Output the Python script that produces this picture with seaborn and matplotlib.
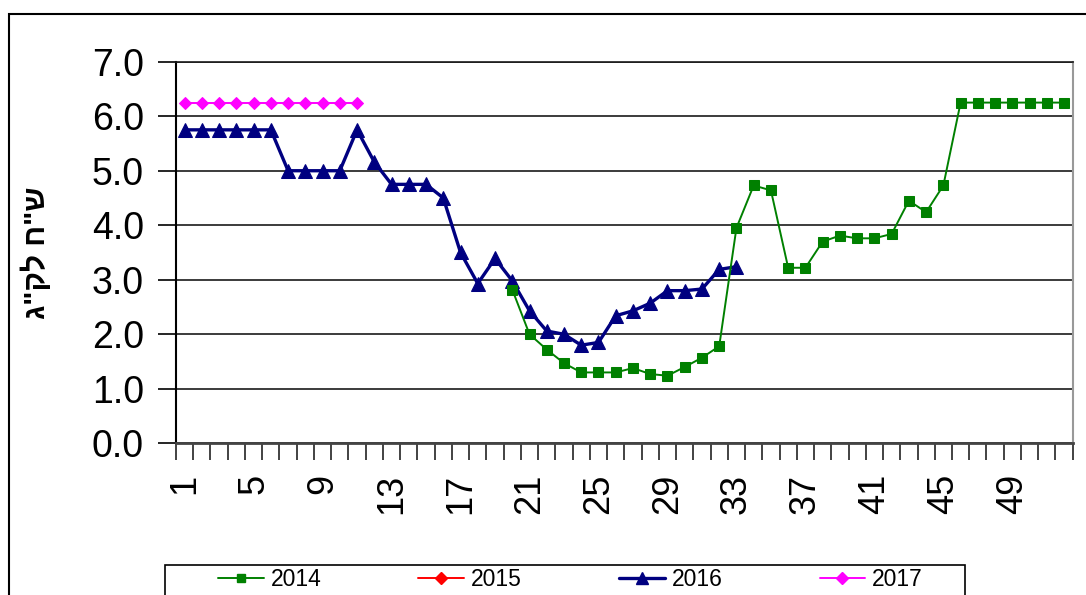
import matplotlib
matplotlib.use("Agg")
import matplotlib.pyplot as plt
import seaborn as sns
import pandas as pd
from matplotlib.lines import Line2D
from matplotlib.patches import Rectangle

# ---------------- data ----------------
weeks_2014 = [20, 21, 22, 23, 24, 25, 26, 27, 28, 29, 30, 31, 32, 33, 34, 35, 36,
              37, 38, 39, 40, 41, 42, 43, 44, 45, 46, 47, 48, 49, 50, 51, 52]
vals_2014 = [2.82, 2.00, 1.72, 1.47, 1.30, 1.30, 1.30, 1.38, 1.27, 1.24, 1.40, 1.57,
             1.78, 3.95, 4.73, 4.64, 3.22, 3.22, 3.70, 3.81, 3.76, 3.76, 3.84, 4.45,
             4.24, 4.73, 6.25, 6.25, 6.25, 6.25, 6.25, 6.25, 6.25]

weeks_2016 = [1, 2, 3, 4, 5, 6, 7, 8, 9, 10, 11, 12, 13, 14, 15, 16, 17, 18, 19, 20,
              21, 22, 23, 24, 25, 26, 27, 28, 29, 30, 31, 32, 33]
vals_2016 = [5.75, 5.75, 5.75, 5.75, 5.75, 5.75, 5.00, 5.00, 5.00, 5.00, 5.75, 5.16,
             4.75, 4.75, 4.75, 4.50, 3.50, 2.93, 3.39, 2.98, 2.43, 2.06, 2.00, 1.80,
             1.85, 2.34, 2.43, 2.57, 2.80, 2.80, 2.83, 3.19, 3.24]

weeks_2017 = [1, 2, 3, 4, 5, 6, 7, 8, 9, 10, 11]
vals_2017 = [6.25, 6.25, 6.25, 6.25, 6.25, 6.25, 6.25, 6.25, 6.25, 6.25, 6.25]

series_names = ["2014", "2015", "2016", "2017"]
x_tick_labels = ["1", "5", "9", "13", "17", "21", "25", "29", "33", "37", "41", "45", "49"]
y_ticks = [0.0, 1.0, 2.0, 3.0, 4.0, 5.0, 6.0, 7.0]
y_label = 'ג"קל ח"ש'  # visual (right-to-left) order of ש"ח לק"ג

# ---------------- style ----------------
sns.set_style("white")
plt.rcParams["font.family"] = ["Liberation Sans", "DejaVu Sans"]
plt.rcParams["text.color"] = "black"
plt.rcParams["xtick.color"] = "black"
plt.rcParams["ytick.color"] = "black"

W, H = 1086, 595
fig = plt.figure(figsize=(W / 100, H / 100), dpi=100)
ax = fig.add_axes([176 / W, 1 - 443.3 / H, (1072.7 - 176) / W, (443.3 - 61.7) / H])

c2014, c2015, c2016, c2017 = "#008000", "#FF0000", "#000080", "#FF00FF"

sns.lineplot(x=weeks_2016, y=vals_2016, ax=ax, color=c2016, linewidth=2.4,
             marker="^", markersize=9.5, markeredgecolor=c2016, legend=False)
sns.lineplot(x=weeks_2014, y=vals_2014, ax=ax, color=c2014, linewidth=1.4,
             marker="s", markersize=6.5, markeredgecolor=c2014, legend=False)
sns.lineplot(x=weeks_2017, y=vals_2017, ax=ax, color=c2017, linewidth=1.4,
             marker="D", markersize=6, markeredgecolor=c2017, legend=False)

ax.set_xlim(0.5, 52.5)
ax.set_ylim(0, 7)
ax.set_xlabel("")
ax.set_ylabel("")

# y axis
ax.set_yticks(y_ticks)
ax.set_yticklabels([f"{v:.1f}" for v in y_ticks], fontsize=27, color="black")
ax.tick_params(axis="y", which="major", direction="out", length=13, width=1.2,
               color="black", labelcolor="black", pad=10, left=True)
ax.yaxis.grid(True, color="#1a1a1a", linewidth=1.2)
ax.xaxis.grid(False)
ax.set_axisbelow(True)

# x axis: labels at every 4th week, tick marks between categories
ax.set_xticks([int(t) for t in x_tick_labels])
ax.set_xticklabels(x_tick_labels, rotation=90, fontsize=26, va="top", ha="center",
                   color="black")
ax.tick_params(axis="x", which="major", length=0, pad=22, bottom=True,
               labelcolor="black")
ax.set_xticks([k + 0.5 for k in range(0, 53)], minor=True)
ax.tick_params(axis="x", which="minor", direction="out", length=12, width=1.2,
               color="#222222", bottom=True)

for side in ["top", "right", "left", "bottom"]:
    ax.spines[side].set_visible(True)
ax.spines["left"].set_color("black")
ax.spines["left"].set_linewidth(1.5)
ax.spines["bottom"].set_color("#444444")
ax.spines["bottom"].set_linewidth(2)
ax.spines["top"].set_color("#1a1a1a")
ax.spines["top"].set_linewidth(1.2)
ax.spines["right"].set_color("#999999")
ax.spines["right"].set_linewidth(1.5)

# y label
fig.text(36 / W, 1 - 253 / H, y_label, rotation=90, ha="center", va="center",
         fontsize=21.5, fontweight="bold", color="black")

# outer chart border
fig.patches.append(Rectangle((8.5 / W, -0.2), 2.0, 1.2 - 14 / H,
                             transform=fig.transFigure, fill=False,
                             edgecolor="black", linewidth=1.5, figure=fig))
# legend frame
fig.patches.append(Rectangle((165 / W, -0.2), 800 / W, 0.2 + 30 / H,
                             transform=fig.transFigure, fill=False,
                             edgecolor="black", linewidth=1.2, figure=fig))

handles = [
    Line2D([], [], color=c2014, lw=1.4, marker="s", markersize=6, markeredgecolor=c2014),
    Line2D([], [], color=c2015, lw=1.4, marker="D", markersize=6, markeredgecolor=c2015),
    Line2D([], [], color=c2016, lw=2.4, marker="^", markersize=8, markeredgecolor=c2016),
    Line2D([], [], color=c2017, lw=1.4, marker="D", markersize=6, markeredgecolor=c2017),
]
leg = fig.legend(handles, series_names, loc="center left", ncol=4, frameon=False,
                 bbox_to_anchor=(218 / W, 1 - 580 / H, 705 / W, 0.0), mode="expand",
                 fontsize=16.5, handlelength=2.0, handletextpad=0.3, borderaxespad=0,
                 borderpad=0)
for t in leg.get_texts():
    t.set_color("black")

fig.savefig("out.png", dpi=100)
